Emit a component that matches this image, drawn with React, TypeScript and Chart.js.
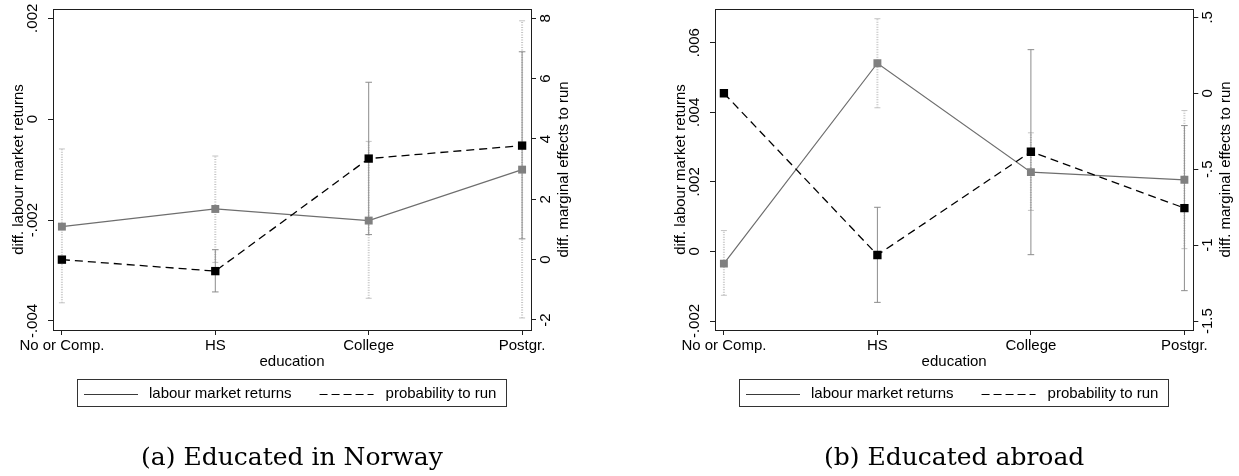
import React, { useEffect, useRef } from "react";
import { Chart, registerables } from "chart.js";

Chart.register(...registerables);

// ---------- data ----------
const categories = ["No or Comp.", "HS", "College", "Postgr."];

// (a) Educated in Norway
const norwayLabour = [-0.00213, -0.00178, -0.00201, -0.001];
const norwayLabourLow = [-0.00364, -0.00284, -0.00355, -0.00394];
const norwayLabourHigh = [-0.00059, -0.00073, -0.00044, 0.00195];
const norwayProb = [0, -0.38, 3.35, 3.78];
const norwayProbLow: (number | null)[] = [null, -1.07, 0.83, 0.69];
const norwayProbHigh: (number | null)[] = [null, 0.33, 5.88, 6.89];
const norwayLeftTicks = [-0.004, -0.002, 0, 0.002];
const norwayRightTicks = [-2, 0, 2, 4, 6, 8];

// (b) Educated abroad
const abroadLabour = [-0.00035, 0.00541, 0.00228, 0.00206];
const abroadLabourLow = [-0.00126, 0.00413, 0.00118, 0.00008];
const abroadLabourHigh = [0.0006, 0.00669, 0.00341, 0.00405];
const abroadProb = [0, -1.065, -0.385, -0.756];
const abroadProbLow: (number | null)[] = [null, -1.377, -1.063, -1.3];
const abroadProbHigh: (number | null)[] = [null, -0.751, 0.287, -0.213];
const abroadLeftTicks = [-0.002, 0, 0.002, 0.004, 0.006];
const abroadRightTicks = [-1.5, -1, -0.5, 0, 0.5];

const seriesLabels = ["labour market returns", "probability to run"];
const xTitle = "education";
const leftTitle = "diff. labour market returns";
const rightTitle = "diff. marginal effects to run";

// ---------- styles ----------
const SANS = '"Liberation Sans", Arial, Helvetica, sans-serif';
const SERIF = '"DejaVu Serif", serif';
const LABOUR_LINE = "#6e6e6e";
const LABOUR_MARK = "#808080";
const PROB_COLOR = "#000000";
const PROB_CI = "#8c8c8c";
const LABOUR_CI = "#c4c4c4";
const DASH = [8, 5];

const fmt = (v: number) => {
  const s = String(+v.toFixed(6));
  return s.replace(/^(-?)0\./, "$1.");
};

type PanelCfg = {
  left: number;
  width: number;
  axisLeft: number;
  axisRight: number;
  caption: string;
  labour: number[];
  labourLow: number[];
  labourHigh: number[];
  prob: number[];
  probLow: (number | null)[];
  probHigh: (number | null)[];
  leftTicks: number[];
  rightTicks: number[];
  yMin: number;
  yMax: number;
  y1Min: number;
  y1Max: number;
};

const panels: PanelCfg[] = [
  {
    left: 0,
    width: 620,
    axisLeft: 53,
    axisRight: 89,
    caption: "(a) Educated in Norway",
    labour: norwayLabour,
    labourLow: norwayLabourLow,
    labourHigh: norwayLabourHigh,
    prob: norwayProb,
    probLow: norwayProbLow,
    probHigh: norwayProbHigh,
    leftTicks: norwayLeftTicks,
    rightTicks: norwayRightTicks,
    yMin: -0.004179,
    yMax: 0.002184,
    y1Min: -2.332,
    y1Max: 8.308,
  },
  {
    left: 620,
    width: 619,
    axisLeft: 95,
    axisRight: 45.7,
    caption: "(b) Educated abroad",
    labour: abroadLabour,
    labourLow: abroadLabourLow,
    labourHigh: abroadLabourHigh,
    prob: abroadProb,
    probLow: abroadProbLow,
    probHigh: abroadProbHigh,
    leftTicks: abroadLeftTicks,
    rightTicks: abroadRightTicks,
    yMin: -0.002258,
    yMax: 0.006969,
    y1Min: -1.559,
    y1Max: 0.5547,
  },
];

const decorPlugin = (cfg: PanelCfg) => ({
  id: "stataDecor",
  afterDraw(chart: any) {
    const { ctx, chartArea: ca } = chart;
    const y = chart.scales.y;
    const y1 = chart.scales.y1;
    const midY = (ca.top + ca.bottom) / 2;
    const midX = (ca.left + ca.right) / 2;
    ctx.save();

    // frame
    ctx.strokeStyle = "#1e1e1e";
    ctx.lineWidth = 1;
    ctx.setLineDash([]);
    ctx.strokeRect(
      Math.round(ca.left) + 0.5,
      Math.round(ca.top) + 0.5,
      Math.round(ca.right) - Math.round(ca.left),
      Math.round(ca.bottom) - Math.round(ca.top)
    );

    const rotText = (txt: string, x: number, yy: number) => {
      ctx.save();
      ctx.translate(x, yy);
      ctx.rotate(-Math.PI / 2);
      ctx.textAlign = "center";
      ctx.textBaseline = "middle";
      ctx.fillText(txt, 0, 0);
      ctx.restore();
    };

    ctx.fillStyle = "#000";
    ctx.font = `15px ${SANS}`;
    for (const t of y.ticks) rotText(fmt(t.value), ca.left - 20, y.getPixelForValue(t.value));
    for (const t of y1.ticks) rotText(fmt(t.value), ca.right + 14.5, y1.getPixelForValue(t.value));
    rotText(leftTitle, ca.left - 34, midY);
    rotText(rightTitle, ca.right + 33, midY);

    // x title
    ctx.textAlign = "center";
    ctx.textBaseline = "middle";
    ctx.fillText(xTitle, midX, 362);

    // legend
    const w1 = ctx.measureText(seriesLabels[0]).width;
    const w2 = ctx.measureText(seriesLabels[1]).width;
    const total = 7 + 54 + 11 + w1 + 28 + 54 + 12 + w2 + 10;
    const bx = Math.round(midX - total / 2);
    const by = 379;
    const bh = 27;
    ctx.strokeStyle = "#333";
    ctx.lineWidth = 1;
    ctx.strokeRect(bx + 0.5, by + 0.5, Math.round(total), bh);
    const ly = by + 15;
    let cx = bx + 7;
    ctx.strokeStyle = "#3a3a3a";
    ctx.beginPath();
    ctx.moveTo(cx, ly + 0.5);
    ctx.lineTo(cx + 54, ly + 0.5);
    ctx.stroke();
    cx += 54 + 11;
    ctx.textAlign = "left";
    ctx.fillText(seriesLabels[0], cx, ly);
    cx += w1 + 28;
    ctx.strokeStyle = "#000";
    ctx.setLineDash([8, 4]);
    ctx.beginPath();
    ctx.moveTo(cx, ly + 0.5);
    ctx.lineTo(cx + 54, ly + 0.5);
    ctx.stroke();
    ctx.setLineDash([]);
    cx += 54 + 12;
    ctx.fillText(seriesLabels[1], cx, ly);

    // caption
    ctx.font = `25px ${SERIF}`;
    ctx.textAlign = "center";
    ctx.textBaseline = "middle";
    ctx.fillText(cfg.caption, midX, 458);

    ctx.restore();
  },
});

function buildConfig(cfg: PanelCfg): any {
  const datasets: any[] = [];
  datasets.push({
    label: seriesLabels[0],
    data: cfg.labour.map((v, i) => ({ x: i, y: v })),
    yAxisID: "y",
    showLine: true,
    borderColor: LABOUR_LINE,
    borderWidth: 1.2,
    pointStyle: "rect",
    pointRadius: 5.6,
    pointBackgroundColor: LABOUR_MARK,
    pointBorderColor: LABOUR_MARK,
    pointBorderWidth: 0,
    order: 1,
  });
  datasets.push({
    label: seriesLabels[1],
    data: cfg.prob.map((v, i) => ({ x: i, y: v })),
    yAxisID: "y1",
    showLine: true,
    borderColor: PROB_COLOR,
    borderWidth: 1.3,
    borderDash: DASH,
    pointStyle: "rect",
    pointRadius: 5.9,
    pointBackgroundColor: PROB_COLOR,
    pointBorderColor: PROB_COLOR,
    pointBorderWidth: 0,
    order: 0,
  });
  cfg.labour.forEach((_, i) => {
    datasets.push({
      label: "labour CI",
      data: [
        { x: i, y: cfg.labourLow[i] },
        { x: i, y: cfg.labourHigh[i] },
      ],
      yAxisID: "y",
      showLine: true,
      borderColor: LABOUR_CI,
      borderWidth: 2,
      borderDash: [1, 1.5],
      pointStyle: "line",
      pointRadius: 3,
      pointBorderColor: LABOUR_CI,
      pointBorderWidth: 1,
      order: 3,
    });
  });
  cfg.prob.forEach((_, i) => {
    const lo = cfg.probLow[i];
    const hi = cfg.probHigh[i];
    if (lo === null || hi === null) return;
    datasets.push({
      label: "prob CI",
      data: [
        { x: i, y: lo },
        { x: i, y: hi },
      ],
      yAxisID: "y1",
      showLine: true,
      borderColor: PROB_CI,
      borderWidth: 1,
      pointStyle: "line",
      pointRadius: 3.3,
      pointBorderColor: PROB_CI,
      pointBorderWidth: 1,
      order: 2,
    });
  });

  const grid = {
    display: true,
    drawOnChartArea: false,
    drawTicks: true,
    tickLength: 5,
    color: "#1e1e1e",
    lineWidth: 1,
  };

  return {
    type: "scatter",
    data: { datasets },
    options: {
      animation: false,
      responsive: false,
      maintainAspectRatio: false,
      devicePixelRatio: 1,
      layout: { padding: { top: 9, left: 0, right: 0, bottom: 0 } },
      plugins: { legend: { display: false }, tooltip: { enabled: false } },
      scales: {
        x: {
          type: "linear",
          position: "bottom",
          min: -0.058,
          max: 3.058,
          afterBuildTicks: (s: any) => {
            s.ticks = categories.map((_, i) => ({ value: i }));
          },
          afterFit: (s: any) => {
            s.height = 146;
          },
          ticks: {
            autoSkip: false,
            maxRotation: 0,
            minRotation: 0,
            padding: 2,
            color: "#000",
            font: { family: SANS, size: 15 },
            callback: (v: number) => categories[Math.round(v)] ?? "",
          },
          grid,
          border: { display: false },
        },
        y: {
          type: "linear",
          position: "left",
          min: cfg.yMin,
          max: cfg.yMax,
          afterBuildTicks: (s: any) => {
            s.ticks = cfg.leftTicks.map((v) => ({ value: v }));
          },
          afterFit: (s: any) => {
            s.width = cfg.axisLeft;
          },
          ticks: { display: false },
          grid,
          border: { display: false },
        },
        y1: {
          type: "linear",
          position: "right",
          min: cfg.y1Min,
          max: cfg.y1Max,
          afterBuildTicks: (s: any) => {
            s.ticks = cfg.rightTicks.map((v) => ({ value: v }));
          },
          afterFit: (s: any) => {
            s.width = cfg.axisRight;
          },
          ticks: { display: false },
          grid,
          border: { display: false },
        },
      },
    },
    plugins: [decorPlugin(cfg)],
  };
}

function Panel({ cfg }: { cfg: PanelCfg }) {
  const ref = useRef<HTMLCanvasElement>(null);
  useEffect(() => {
    if (!ref.current) return;
    const chart = new Chart(ref.current, buildConfig(cfg));
    return () => chart.destroy();
  }, [cfg]);
  return (
    <canvas
      ref={ref}
      width={cfg.width}
      height={476}
      style={{
        position: "absolute",
        left: cfg.left,
        top: 0,
        width: cfg.width,
        height: 476,
        display: "block",
      }}
    />
  );
}

export default function App() {
  return (
    <div
      style={{
        position: "absolute",
        left: 0,
        top: 0,
        width: 1239,
        height: 476,
        background: "#fff",
        overflow: "hidden",
      }}
    >
      {panels.map((p) => (
        <Panel key={p.caption} cfg={p} />
      ))}
    </div>
  );
}
